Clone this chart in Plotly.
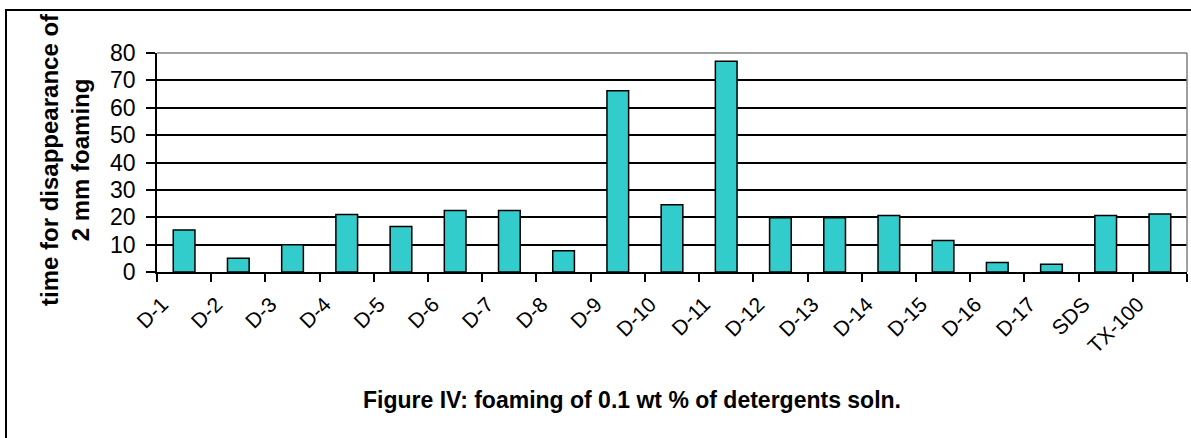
import plotly.graph_objects as go

categories = ["D-1", "D-2", "D-3", "D-4", "D-5", "D-6", "D-7", "D-8", "D-9", "D-10",
              "D-11", "D-12", "D-13", "D-14", "D-15", "D-16", "D-17", "SDS", "TX-100"]
values = [15.3, 5.0, 10.0, 21.0, 16.6, 22.5, 22.5, 7.8, 66.2, 24.6,
          77.0, 19.8, 19.8, 20.6, 11.5, 3.5, 2.8, 20.6, 21.2]
y_ticks = [0, 10, 20, 30, 40, 50, 60, 70, 80]

y_title = "time for disappearance of<br>2 mm foaming"
fig_title = "Figure IV: foaming of 0.1 wt % of detergents soln."

FONT = "Liberation Sans, Arial, sans-serif"

fig = go.Figure()
fig.add_trace(go.Bar(
    x=categories, y=values,
    marker=dict(color="#33CCCC", line=dict(color="black", width=1.5)),
))

W, H = 1191, 438
L, R, T, B = 157, 4, 53, 166
pw = W - L - R
ph = H - T - B

def px_x(p):
    return (p - L) / pw

def px_y(p):
    return (H - B - p) / ph

fig.update_layout(
    width=W, height=H,
    margin=dict(l=L, r=R, t=T, b=B),
    paper_bgcolor="white", plot_bgcolor="white",
    showlegend=False,
    bargap=0.6,
    font=dict(family=FONT, color="black", size=21),
    xaxis=dict(
        type="category",
        tickangle=-45,
        tickson="boundaries",
        ticks="outside", ticklen=8, tickwidth=1.5, tickcolor="black",
        showline=True, linecolor="black", linewidth=1.5,
        showgrid=False,
        ticklabelstandoff=10,
        ticklabelshift=-22,
        tickfont=dict(size=21, family=FONT, color="black"),
    ),
    yaxis=dict(
        range=[0, 80],
        tickvals=y_ticks,
        ticks="outside", ticklen=9, tickwidth=1.5, tickcolor="black",
        showline=True, linecolor="black", linewidth=1.5,
        showgrid=True, gridcolor="black", gridwidth=1.5,
        zeroline=False,
        ticklabelstandoff=6,
        tickfont=dict(size=23, family=FONT, color="black"),
    ),
    shapes=[
        dict(type="line", xref="paper", yref="paper", x0=0, x1=1, y0=1, y1=1,
             line=dict(color="#808080", width=1.5), layer="above"),
        dict(type="line", xref="paper", yref="paper", x0=1, x1=1, y0=0, y1=1,
             line=dict(color="#808080", width=1.5), layer="above"),
        dict(type="rect", xref="paper", yref="paper",
             x0=px_x(6), x1=px_x(W + 20), y0=px_y(H + 20), y1=px_y(10),
             line=dict(color="black", width=2), fillcolor="rgba(0,0,0,0)", layer="above"),
    ],
    annotations=[
        dict(text="<b>" + y_title + "</b>", xref="paper", yref="paper",
             x=px_x(65), y=px_y(160), xanchor="center", yanchor="middle",
             textangle=-90, showarrow=False,
             font=dict(size=24, family=FONT, color="black")),
        dict(text="<b>" + fig_title + "</b>", xref="paper", yref="paper",
             x=px_x(632), y=px_y(400), xanchor="center", yanchor="middle",
             showarrow=False,
             font=dict(size=23, family=FONT, color="black")),
    ],
)

fig.write_html("out.html", config={"displayModeBar": False},
               post_script="document.body.style.margin='0px';")
